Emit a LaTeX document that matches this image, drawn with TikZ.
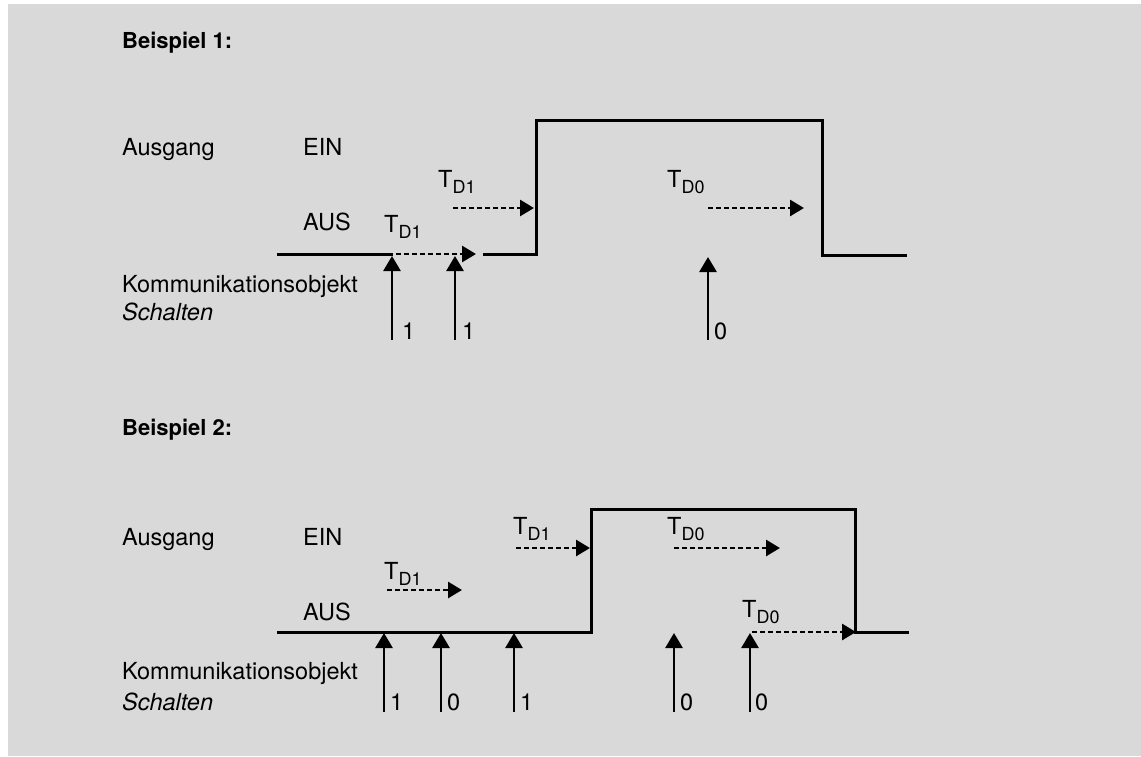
\documentclass[tikz,border=0pt]{standalone}
\usepackage{fontspec}
\setmainfont{TeX Gyre Heros}
\usetikzlibrary{arrows.meta}
\definecolor{bggray}{RGB}{217,217,217}
\newcommand\Tsub[1]{T\raisebox{-6pt}{\fontsize{18}{18}\selectfont D#1}}
\begin{document}
\begin{tikzpicture}[x=1pt,y=-1pt,
  txt/.style={anchor=base west,inner sep=0pt,font=\fontsize{23.5}{27}\selectfont},
  head/.style={anchor=base west,inner sep=0pt,font=\fontsize{22}{26}\selectfont\bfseries},
  sig/.style={line width=3pt,line join=miter},
  trig/.style={line width=2.8pt,-{Triangle[length=15pt,width=17pt]}},
  delay/.style={line width=2.8pt,dash pattern=on 5pt off 3pt,-{Triangle[length=14pt,width=16pt]}}]
\useasboundingbox (0,0) rectangle (1141,756);
\fill[white] (0,0) rectangle (1141,756);
\fill[bggray] (8,4) rectangle (1141,756);

% ---------- Beispiel 1 ----------
\node[head] (h1) at (122,48) {Beispiel 1:};
\node[txt] (aus1) at (122,155) {Ausgang};
\node[txt] (ein1) at (303,155) {EIN};
\node[txt] (off1) at (303,230) {AUS};
\node[txt] (ko1) at (122,292) {Kommunikationsobjekt};
\node[txt] (sc1) at (122,320) {\itshape Schalten};

\coordinate (s1a) at (277,254);
\coordinate (s1b) at (393,254);
\coordinate (s1c) at (483,254);
\coordinate (s1d) at (536,254);
\coordinate (s1e) at (536,120);
\coordinate (s1f) at (822,120);
\coordinate (s1g) at (822,255);
\coordinate (s1h) at (907,255);
\draw[sig] (s1a) -- (s1b);
\draw[sig] (s1c) -- (s1d) -- (s1e) -- (s1f) -- (s1g) -- (s1h);

% trigger arrows
\coordinate (t1a0) at (392,340); \coordinate (t1a1) at (392,256);
\coordinate (t1b0) at (455,340); \coordinate (t1b1) at (455,256);
\coordinate (t1c0) at (708,340); \coordinate (t1c1) at (708,257);
\draw[trig] (t1a0) -- (t1a1);
\draw[trig] (t1b0) -- (t1b1);
\draw[trig] (t1c0) -- (t1c1);
\node[txt] (v1a) at (402,339) {1};
\node[txt] (v1b) at (462,339) {1};
\node[txt] (v1c) at (714,339) {0};

% delays
\coordinate (d1a0) at (396,254); \coordinate (d1a1) at (476,254);
\coordinate (d1b0) at (453,208); \coordinate (d1b1) at (534,208);
\coordinate (d1c0) at (708,208); \coordinate (d1c1) at (804,208);
\draw[delay] (d1a0) -- (d1a1);
\draw[delay] (d1b0) -- (d1b1);
\draw[delay] (d1c0) -- (d1c1);
\node[txt] (l1a) at (384,232) {\Tsub{1}};
\node[txt] (l1b) at (438,187) {\Tsub{1}};
\node[txt] (l1c) at (667,187) {\Tsub{0}};

% ---------- Beispiel 2 ----------
\node[head] (h2) at (122,435) {Beispiel 2:};
\node[txt] (aus2) at (122,545) {Ausgang};
\node[txt] (ein2) at (303,545) {EIN};
\node[txt] (off2) at (303,620) {AUS};
\node[txt] (ko2) at (122,679) {Kommunikationsobjekt};
\node[txt] (sc2) at (122,710) {\itshape Schalten};

\coordinate (s2a) at (277,632);
\coordinate (s2b) at (591,632);
\coordinate (s2c) at (591,509);
\coordinate (s2d) at (855,509);
\coordinate (s2e) at (855,632);
\coordinate (s2f) at (909,632);
\draw[sig] (s2a) -- (s2b) -- (s2c) -- (s2d) -- (s2e) -- (s2f);

\coordinate (t2a0) at (384,712); \coordinate (t2a1) at (384,633);
\coordinate (t2b0) at (441,712); \coordinate (t2b1) at (441,633);
\coordinate (t2c0) at (514,712); \coordinate (t2c1) at (514,633);
\coordinate (t2d0) at (674,712); \coordinate (t2d1) at (674,633);
\coordinate (t2e0) at (750,712); \coordinate (t2e1) at (750,633);
\draw[trig] (t2a0) -- (t2a1);
\draw[trig] (t2b0) -- (t2b1);
\draw[trig] (t2c0) -- (t2c1);
\draw[trig] (t2d0) -- (t2d1);
\draw[trig] (t2e0) -- (t2e1);
\node[txt] (v2a) at (390,710) {1};
\node[txt] (v2b) at (447,710) {0};
\node[txt] (v2c) at (520,710) {1};
\node[txt] (v2d) at (680,710) {0};
\node[txt] (v2e) at (755,710) {0};

\coordinate (d2a0) at (387,590); \coordinate (d2a1) at (462,590);
\coordinate (d2b0) at (516,548); \coordinate (d2b1) at (590,548);
\coordinate (d2c0) at (674,548); \coordinate (d2c1) at (780,548);
\coordinate (d2d0) at (752,632); \coordinate (d2d1) at (856,632);
\draw[delay] (d2a0) -- (d2a1);
\draw[delay] (d2b0) -- (d2b1);
\draw[delay] (d2c0) -- (d2c1);
\draw[delay] (d2d0) -- (d2d1);
\node[txt] (l2a) at (384,579) {\Tsub{1}};
\node[txt] (l2b) at (513,534) {\Tsub{1}};
\node[txt] (l2c) at (667,534) {\Tsub{0}};
\node[txt] (l2d) at (742,617) {\Tsub{0}};
\end{tikzpicture}
\end{document}
